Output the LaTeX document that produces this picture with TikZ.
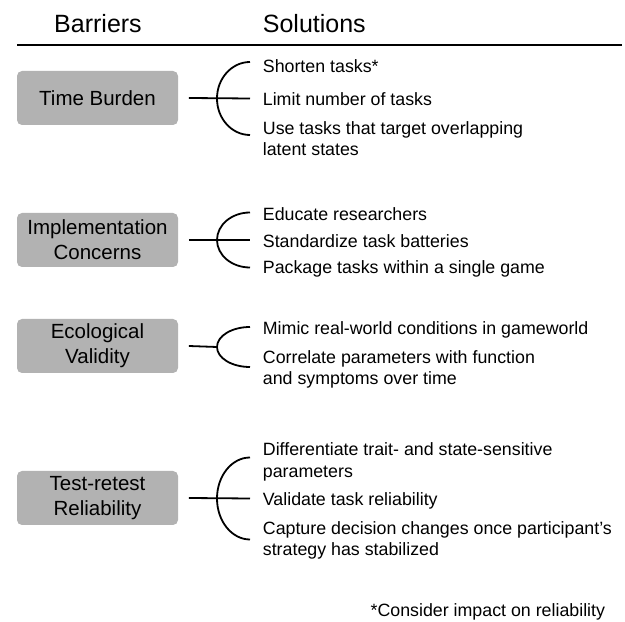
\documentclass[tikz,border=0pt]{standalone}
\usepackage{xcolor}
\usepackage{fontspec}
\setmainfont{Liberation Sans}

\begin{document}
\begin{tikzpicture}[x=1pt, y=1pt, line width=1.8pt,
		barrier/.style={fill=black!30, rounded corners=5pt, minimum width=161pt, minimum height=54pt, inner sep=0pt, align=center, font=\fontsize{20.5}{25}\selectfont},
		solution/.style={anchor=west, align=left, inner sep=0pt, font=\fontsize{17.8}{21.3}\selectfont},
		heading/.style={inner sep=0pt, font=\fontsize{25}{30}\selectfont}]
			\useasboundingbox (0,0) rectangle (625,622);

			% Column headings
			\node[heading] (barriers) at (98,598.5) {Barriers};
			\node[heading, anchor=west] (solutions) at (262,598.5) {Solutions};
			\draw (17,577) -- (622,577);

			% Barrier boxes
			\node[barrier] (time) at (97.5,524) {Time Burden};
			\node[barrier] (impl) at (97.5,382) {Implementation\\Concerns};
			\node[barrier] (eco) at (97.5,276) {Ecological\\Validity};
			\node[barrier] (retest) at (97.5,124) {Test-retest\\Reliability};

			% Bracket centres
			\coordinate (b1) at (250,523.5);
			\coordinate (b2) at (250,382);
			\coordinate (b3) at (250,275);
			\coordinate (b4) at (250,123.5);

			% Connectors
			\draw ([xshift=10]time.east) -- (b1);
			\draw ([xshift=10]impl.east) -- (b2);
			\draw ([xshift=10]eco.east) -- ([xshift=-33]b3);
			\draw ([xshift=10]retest.east) -- (b4);

			% Brackets
			\foreach \b/\r in {b1/36.5, b2/27.5, b3/20, b4/41}
				\draw ([yshift=\r]\b) arc[start angle=90, end angle=270, x radius=33, y radius=\r];

			% Solutions for each barrier
			\node[solution] (shorten) at (262,556) {Shorten tasks*};
			\node[solution] (limit) at (262,522.5) {Limit number of tasks};
			\node[solution] (overlap) at (262,483.5) {Use tasks that target overlapping\\latent states};

			\node[solution] (educate) at (262,408) {Educate researchers};
			\node[solution] (standard) at (262,381) {Standardize task batteries};
			\node[solution] (package) at (262,353) {Package tasks within a single game};

			\node[solution] (mimic) at (262,292) {Mimic real-world conditions in gameworld};
			\node[solution] (correlate) at (262,252.5) {Correlate parameters with function\\and symptoms over time};

			\node[solution] (trait) at (262,160) {Differentiate trait- and state-sensitive\\parameters};
			\node[solution] (validate) at (262,121) {Validate task reliability};
			\node[solution] (capture) at (262,81.5) {Capture decision changes once participant’s\\strategy has stabilized};

			% Footnote
			\node[solution, anchor=east] (note) at (606,10) {*Consider impact on reliability};

		\end{tikzpicture}
\end{document}
